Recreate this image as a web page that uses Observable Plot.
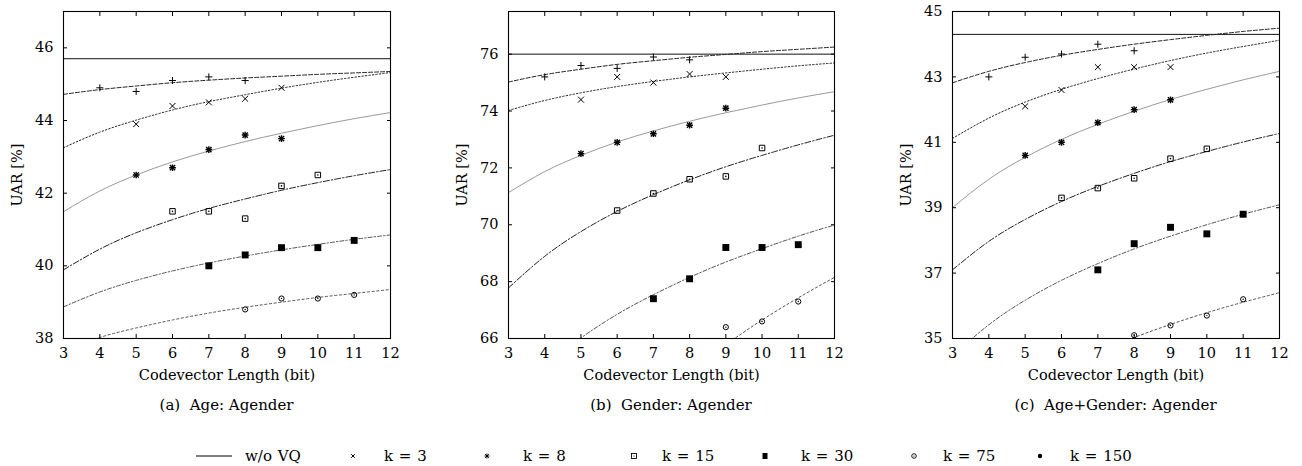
<!DOCTYPE html>
<html><head><meta charset="utf-8">
<script src="https://cdn.jsdelivr.net/npm/d3@7"></script>
<script src="https://cdn.jsdelivr.net/npm/@observablehq/plot@0.6"></script>
<style>
body{margin:0;background:#fff;}
#fig{position:relative;width:1302px;height:466px;font-family:"DejaVu Serif";color:#000;overflow:hidden;}
.panel{position:absolute;top:0;}
.panel svg, .panel svg text{font-family:"DejaVu Serif" !important;}
.cap{position:absolute;top:397px;font-size:15px;line-height:16px;transform:translateX(-50%);white-space:pre;}
.lg{position:absolute;font-size:15px;line-height:16px;white-space:pre;word-spacing:1px;}
.ls{position:absolute;}
</style></head><body><div id="fig"></div>
<script>
// ---------- data ----------
const fitX = [3, 4, 5, 6, 7, 8, 9, 10, 11, 12];
const xTicks = [3, 4, 5, 6, 7, 8, 9, 10, 11, 12];
const seriesKeys = ["plus", "times", "star", "box", "fbox", "circ"];

const plusX = [4, 5, 6, 7, 8];
const timesX = [5, 6, 7, 8, 9];
const starX = [5, 6, 7, 8, 9];
const boxX = [6, 7, 8, 9, 10];
const fboxX = [7, 8, 9, 10, 11];
const circXA = [8, 9, 10, 11];
const circXB = [9, 10, 11];
const circXC = [8, 9, 10, 11];

// (a) Age: Agender
const noVQA = 45.7;
const plusA = [44.9, 44.8, 45.1, 45.2, 45.1];
const timesA = [43.9, 44.4, 44.5, 44.6, 44.9];
const starA = [42.5, 42.7, 43.2, 43.6, 43.5];
const boxA = [41.5, 41.5, 41.3, 42.2, 42.5];
const fboxA = [40.0, 40.3, 40.5, 40.5, 40.7];
const circA = [38.8, 39.1, 39.1, 39.2];
const fitAplus = [44.72, 44.85, 44.95, 45.04, 45.11, 45.17, 45.22, 45.27, 45.31, 45.35];
const fitAtimes = [43.25, 43.68, 44.01, 44.29, 44.52, 44.71, 44.89, 45.05, 45.19, 45.32];
const fitAstar = [41.49, 42.06, 42.50, 42.86, 43.16, 43.42, 43.65, 43.86, 44.05, 44.22];
const fitAbox = [39.89, 40.46, 40.91, 41.27, 41.58, 41.84, 42.08, 42.29, 42.48, 42.65];
const fitAfbox = [38.87, 39.28, 39.60, 39.86, 40.08, 40.27, 40.44, 40.59, 40.73, 40.85];
const fitAcirc = [37.68, 38.03, 38.29, 38.51, 38.70, 38.86, 39.00, 39.13, 39.24, 39.35];
const yTicksA = [38, 40, 42, 44, 46];

// (b) Gender: Agender
const noVQB = 76.0;
const plusB = [75.2, 75.6, 75.5, 75.9, 75.8];
const timesB = [74.4, 75.2, 75.0, 75.3, 75.2];
const starB = [72.5, 72.9, 73.2, 73.5, 74.1];
const boxB = [70.5, 71.1, 71.6, 71.7, 72.7];
const fboxB = [67.4, 68.1, 69.2, 69.2, 69.3];
const circB = [66.4, 66.6, 67.3];
const fitBplus = [75.02, 75.28, 75.47, 75.64, 75.77, 75.89, 75.99, 76.09, 76.17, 76.25];
const fitBtimes = [74.02, 74.37, 74.64, 74.86, 75.04, 75.20, 75.34, 75.47, 75.59, 75.69];
const fitBstar = [71.13, 71.87, 72.44, 72.91, 73.30, 73.64, 73.94, 74.21, 74.46, 74.68];
const fitBbox = [67.78, 68.89, 69.76, 70.47, 71.06, 71.58, 72.04, 72.44, 72.81, 73.15];
const fitBfbox = [63.70, 65.01, 66.02, 66.85, 67.54, 68.15, 68.69, 69.16, 69.60, 69.99];
const fitBcirc = [56.74, 59.11, 60.95, 62.45, 63.71, 64.81, 65.78, 66.65, 67.43, 68.15];
const yTicksB = [66, 68, 70, 72, 74, 76];

// (c) Age+Gender: Agender
const noVQC = 44.3;
const plusC = [43.0, 43.6, 43.7, 44.0, 43.8];
const timesC = [42.1, 42.6, 43.3, 43.3, 43.3];
const starC = [40.6, 41.0, 41.6, 42.0, 42.3];
const boxC = [39.3, 39.6, 39.9, 40.5, 40.8];
const fboxC = [37.1, 37.9, 38.4, 38.2, 38.8];
const circC = [35.1, 35.4, 35.7, 36.2];
const fitCplus = [42.82, 43.17, 43.44, 43.66, 43.84, 44.00, 44.14, 44.27, 44.39, 44.49];
const fitCtimes = [41.12, 41.74, 42.23, 42.62, 42.95, 43.24, 43.50, 43.73, 43.93, 44.12];
const fitCstar = [39.00, 39.87, 40.54, 41.09, 41.55, 41.95, 42.31, 42.62, 42.91, 43.17];
const fitCbox = [37.10, 37.97, 38.64, 39.19, 39.65, 40.05, 40.41, 40.72, 41.01, 41.27];
const fitCfbox = [34.46, 35.42, 36.17, 36.78, 37.29, 37.74, 38.13, 38.48, 38.80, 39.09];
const fitCcirc = [31.72, 32.69, 33.45, 34.06, 34.58, 35.03, 35.43, 35.79, 36.11, 36.40];
const yTicksC = [35, 37, 39, 41, 43, 45];

const captions = ["(a)  Age: Agender", "(b)  Gender: Agender", "(c)  Age+Gender: Agender"];
const xLabel = "Codevector Length (bit)";
const yLabel = "UAR [%]";
const legendLabels = ["w/o VQ", "k = 3", "k = 8", "k = 15", "k = 30", "k = 75", "k = 150"];
const legendSymbols = ["line", "times", "star", "box", "fbox", "circ", "dot"];

// ---------- assemble ----------
const FONT = "DejaVu Serif";
const pointX = [plusX, timesX, starX, boxX, fboxX];
const panels = [
  {pts: [plusA, timesA, starA, boxA, fboxA, circA], circX: circXA, fits: [fitAplus, fitAtimes, fitAstar, fitAbox, fitAfbox, fitAcirc], noVQ: noVQA, yDomain: [38, 47], yTicks: yTicksA, ml: 63, mr: 44},
  {pts: [plusB, timesB, starB, boxB, fboxB, circB], circX: circXB, fits: [fitBplus, fitBtimes, fitBstar, fitBbox, fitBfbox, fitBcirc], noVQ: noVQB, yDomain: [66, 77.5], yTicks: yTicksB, ml: 74, mr: 34},
  {pts: [plusC, timesC, starC, boxC, fboxC, circC], circX: circXC, fits: [fitCplus, fitCtimes, fitCstar, fitCbox, fitCfbox, fitCcirc], noVQ: noVQC, yDomain: [35, 45], yTicks: yTicksC, ml: 84, mr: 23}
];

const curveStyle = {
  plus: {stroke: "#222", strokeDasharray: "4,2"},
  times: {stroke: "#222", strokeDasharray: "1.5,2"},
  star: {stroke: "#9a9a9a"},
  box: {stroke: "#222", strokeDasharray: "6,2,1.5,2"},
  fbox: {stroke: "#555", strokeDasharray: "4,2,1.5,2"},
  circ: {stroke: "#555", strokeDasharray: "2.2,2.5"}
};

function symbolMarks(pts, s) {
  const base = {x: "x", y: "y", stroke: "#000", fill: "none", strokeWidth: 1, clip: true};
  const center = (r) => Plot.dot(pts, {x: "x", y: "y", r, fill: "#000", clip: true});
  switch (s) {
    case "plus": return [Plot.dot(pts, {...base, symbol: "plus", r: 2.4})];
    case "times": return [Plot.dot(pts, {...base, symbol: "times", r: 2.8})];
    case "star": return [Plot.dot(pts, {...base, symbol: "plus", r: 2.3, strokeWidth: 1.4}), Plot.dot(pts, {...base, symbol: "times", r: 2.5, strokeWidth: 1.4})];
    case "box": return [Plot.dot(pts, {...base, symbol: "square2", r: 3.5}), center(0.8)];
    case "fbox": return [Plot.dot(pts, {x: "x", y: "y", symbol: "square", r: 3.9, fill: "#000", clip: true})];
    case "circ": return [Plot.dot(pts, {...base, symbol: "circle", r: 2.6}), center(0.7)];
  }
}

const fig = document.getElementById("fig");
const W = 434, H = 390, MT = 11, MB = 52;

panels.forEach((p, i) => {
  const marks = [];
  marks.push(Plot.ruleY([p.noVQ], {stroke: "#111", strokeWidth: 1, clip: true}));
  seriesKeys.forEach((s, j) => {
    const curve = fitX.map((x, k) => ({x, y: p.fits[j][k]}));
    marks.push(Plot.line(curve, {x: "x", y: "y", curve: "natural", strokeWidth: 1, clip: true, ...curveStyle[s]}));
  });
  seriesKeys.forEach((s, j) => {
    const xs = j < 5 ? pointX[j] : p.circX;
    const pts = xs.map((x, k) => ({x, y: p.pts[j][k]}));
    marks.push(...symbolMarks(pts, s));
  });
  marks.push(
    Plot.axisX(xTicks, {anchor: "bottom", tickSize: -4, tickPadding: 13, label: null, fontSize: 14.5, fontFamily: FONT}),
    Plot.axisX(xTicks, {anchor: "top", tickSize: -4, tickFormat: () => "", label: null}),
    Plot.axisY(p.yTicks, {anchor: "left", tickSize: -4, tickPadding: 14, label: null, fontSize: 14.5, fontFamily: FONT}),
    Plot.axisY(p.yTicks, {anchor: "right", tickSize: -4, tickFormat: () => "", label: null}),
    Plot.frame({stroke: "#000", strokeWidth: 1.1}),
    Plot.text([xLabel], {frameAnchor: "bottom", dy: 37, lineAnchor: "middle", fontSize: 14.5, fontFamily: FONT}),
    Plot.text([yLabel], {frameAnchor: "left", dx: -46, rotate: -90, lineAnchor: "middle", textAnchor: "middle", fontSize: 14.5, fontFamily: FONT})
  );
  const svg = Plot.plot({
    width: W, height: H,
    marginTop: MT, marginBottom: MB, marginLeft: p.ml, marginRight: p.mr,
    x: {domain: [3, 12]},
    y: {domain: p.yDomain},
    style: {fontFamily: FONT, fontSize: "15px", background: "transparent", overflow: "visible", color: "#000"},
    marks
  });
  const wrap = document.createElement("div");
  wrap.className = "panel";
  wrap.style.left = (i * W) + "px";
  wrap.appendChild(svg);
  fig.appendChild(wrap);
  const cap = document.createElement("div");
  cap.className = "cap";
  cap.textContent = captions[i];
  cap.style.left = (i * W + p.ml + (W - p.ml - p.mr) / 2) + "px";
  fig.appendChild(cap);
});

// legend
const legendSymX = [196, 353, 487, 634, 765, 914, 1040];
const legendTextX = [245, 384, 523, 662, 801, 943, 1070];
const legendY = 456;
legendLabels.forEach((lab, i) => {
  const t = document.createElement("div");
  t.className = "lg";
  t.textContent = lab;
  t.style.left = legendTextX[i] + "px";
  t.style.top = (legendY - 8) + "px";
  fig.appendChild(t);
  const s = legendSymbols[i];
  const svg = d3.create("svg").attr("class", "ls");
  if (s === "line") {
    svg.attr("width", 38).attr("height", 4).style("left", legendSymX[i] + "px").style("top", (legendY - 2) + "px");
    svg.append("line").attr("x1", 0).attr("x2", 36).attr("y1", 2).attr("y2", 2).attr("stroke", "#000").attr("stroke-width", 1);
  } else {
    svg.attr("width", 12).attr("height", 12).style("left", (legendSymX[i] - 6) + "px").style("top", (legendY - 6) + "px");
    const g = svg.append("g").attr("transform", "translate(6,6)");
    const sym = (type, size) => d3.symbol(type, size)();
    if (s === "times") g.append("path").attr("d", sym(d3.symbolTimes, 10)).attr("stroke", "#000").attr("fill", "none");
    if (s === "star") { g.append("path").attr("d", sym(d3.symbolTimes, 10)).attr("stroke", "#000").attr("fill", "none"); g.append("path").attr("d", sym(d3.symbolPlus, 9)).attr("stroke", "#000").attr("fill", "none"); }
    if (s === "box") { g.append("rect").attr("x", -2.5).attr("y", -2.5).attr("width", 5).attr("height", 5).attr("stroke", "#000").attr("fill", "none").attr("stroke-width", 0.9); g.append("circle").attr("r", 0.6).attr("fill", "#000"); }
    if (s === "fbox") g.append("rect").attr("x", -2.5).attr("y", -3).attr("width", 5).attr("height", 6).attr("fill", "#000");
    if (s === "circ") { g.append("circle").attr("r", 2.3).attr("stroke", "#000").attr("fill", "none").attr("stroke-width", 0.9); g.append("circle").attr("r", 0.6).attr("fill", "#000"); }
    if (s === "dot") g.append("circle").attr("r", 2.2).attr("fill", "#000");
  }
  fig.appendChild(svg.node());
});
</script></body></html>
